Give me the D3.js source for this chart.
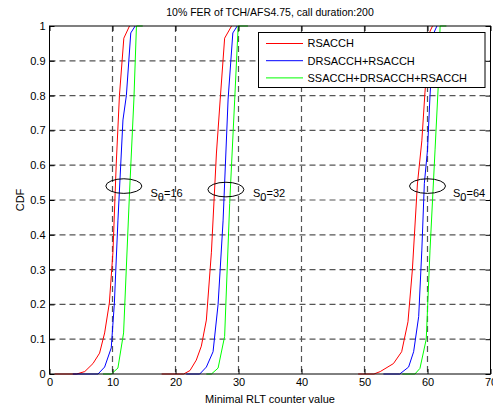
<!DOCTYPE html>
<html><head><meta charset="utf-8">
<script src="https://cdn.jsdelivr.net/npm/d3@7"></script>
<style>body{margin:0;background:#fff}text{font-family:"Liberation Sans",Arial,sans-serif}</style>
</head><body><svg id="c" width="493" height="405"></svg>
<script>
const title = "10% FER of TCH/AFS4.75, call duration:200";
const xLabel = "Minimal RLT counter value";
const yLabel = "CDF";
const xTicks = [0,10,20,30,40,50,60,70];
const yTicks = [0,0.1,0.2,0.3,0.4,0.5,0.6,0.7,0.8,0.9,1];
const seriesNames = ["RSACCH","DRSACCH+RSACCH","SSACCH+DRSACCH+RSACCH"];
const seriesColors = ["#ff0000","#0000ff","#00ff00"];

// group S=16
const red1 = [[0.8,0],[4.3,0],[5.6,0.007],[6.9,0.03],[7.95,0.06],[8.75,0.118],[9.5,0.204],[10.07,0.35],[10.6,0.606],[11.1,0.8],[11.8,0.965],[12.7,1]];
const blue1 = [[3.7,0],[7.7,0],[8.75,0.02],[9.8,0.075],[10.3,0.204],[10.86,0.44],[11.66,0.73],[12.2,0.8],[12.9,0.98],[13.6,1]];
const green1 = [[8.5,0],[9.8,0],[10.86,0.017],[11.76,0.118],[12.7,0.52],[13.4,0.79],[13.8,1],[14.8,1]];
// group S=32
const red2 = [[17.8,0],[21.3,0],[22.3,0.01],[23.3,0.04],[24.1,0.08],[24.9,0.155],[25.7,0.35],[26.5,0.635],[27.1,0.79],[27.8,0.965],[28.9,1]];
const blue2 = [[21.7,0],[23.85,0],[24.9,0.02],[25.96,0.064],[26.76,0.2],[27.55,0.44],[28.35,0.79],[29.1,0.98],[29.8,1]];
const green2 = [[24.9,0],[25.7,0],[26.76,0.017],[27.8,0.108],[28.6,0.49],[29.4,0.79],[29.95,1],[31.5,1]];
// group S=64
const red3 = [[49,0],[51.5,0],[52.5,0.007],[54.6,0.03],[55.9,0.064],[56.9,0.15],[57.6,0.3],[58.4,0.546],[59.1,0.67],[59.6,0.81],[60.4,0.985],[60.8,1]];
const blue3 = [[53,0],[55.6,0],[57,0.02],[57.8,0.064],[58.6,0.165],[59.1,0.356],[59.5,0.548],[60.0,0.644],[60.4,0.8],[61.0,0.98],[61.5,1]];
const green3 = [[56,0],[58,0],[58.8,0.016],[59.8,0.1],[60.4,0.356],[61.2,0.644],[61.7,0.826],[62,1],[63,1]];

const annCenters = [[11.8,0.54],[28,0.53],[60,0.54]];
const annLabels = [["S","θ","=16"],["S","0","=32"],["S","0","=64"]];
const annTextX = [16, 32.1, 64.1];

const svg = d3.select("#c");
const L=49.5,R=490.5,T=26,B=374;
const x = d3.scaleLinear().domain([0,70]).range([L,R]);
const y = d3.scaleLinear().domain([0,1]).range([B,T]);

// grid
const g = svg.append("g");
xTicks.filter(v=>v>0&&v<70).forEach(v=>{
  g.append("line").attr("x1",x(v)).attr("x2",x(v)).attr("y1",T).attr("y2",B)
   .attr("stroke","#555").attr("stroke-width",1.2).attr("stroke-dasharray","6,4");
});
yTicks.filter(v=>v>0&&v<1).forEach(v=>{
  g.append("line").attr("x1",L).attr("x2",R).attr("y1",y(v)).attr("y2",y(v))
   .attr("stroke","#555").attr("stroke-width",1.2).attr("stroke-dasharray","6,4");
});

// curves
const line = d3.line().x(d=>x(d[0])).y(d=>y(d[1]));
const groups=[[red1,blue1,green1],[red2,blue2,green2],[red3,blue3,green3]];
groups.forEach(gr=>gr.forEach((s,i)=>{
  svg.append("path").datum(s).attr("d",line).attr("fill","none").attr("stroke",seriesColors[i]).attr("stroke-width",1);
}));

// axes
const xa = svg.append("g").attr("transform",`translate(0,${B})`).call(d3.axisBottom(x).tickValues(xTicks).tickSize(-5).tickPadding(4).tickFormat(d3.format("d")));
const xt = svg.append("g").attr("transform",`translate(0,${T})`).call(d3.axisTop(x).tickValues(xTicks).tickSize(-5).tickFormat(""));
const ya = svg.append("g").attr("transform",`translate(${L},0)`).call(d3.axisLeft(y).tickValues(yTicks).tickSize(-5).tickPadding(4).tickFormat(d=>d===0?"0":d===1?"1":d3.format(".1f")(d)));
const yr = svg.append("g").attr("transform",`translate(${R},0)`).call(d3.axisRight(y).tickValues(yTicks).tickSize(-5).tickFormat(""));
[xa,xt,ya,yr].forEach(a=>{a.select(".domain").remove();a.selectAll("line").attr("stroke","#000");
  a.selectAll("text").attr("font-size",11).attr("fill","#000").attr("font-family","Liberation Sans, Arial, sans-serif");});
xa.selectAll("text").attr("dy","0.71em");
svg.append("rect").attr("x",L).attr("y",T).attr("width",R-L).attr("height",B-T).attr("fill","none").attr("stroke","#000").attr("stroke-width",1);

// annotations
annCenters.forEach((c,i)=>{
  svg.append("ellipse").attr("cx",x(c[0])).attr("cy",y(c[1])).attr("rx",18).attr("ry",7.3)
   .attr("fill","none").attr("stroke","#000").attr("stroke-width",1);
  const t=svg.append("text").attr("x",x(annTextX[i])-x(0)+L+0).attr("y",y(0.515)).attr("font-size",11);
});
svg.selectAll("text.ann").remove();
svg.selectAll("text").filter(function(){return this.textContent===""&&!this.parentNode.classList.contains("tick");}).remove();
const annX=[150.5,253,453];
annLabels.forEach((lab,i)=>{
  const t=svg.append("text").attr("x",annX[i]).attr("y",y(0.51)).attr("font-size",11).attr("fill","#000");
  t.append("tspan").text(lab[0]);
  t.append("tspan").attr("dy",4).attr("font-size",11).text(lab[1]);
  t.append("tspan").attr("dy",-4).text(lab[2]);
});

// legend
const lg=svg.append("g");
lg.append("rect").attr("x",258.5).attr("y",32.5).attr("width",226.5).attr("height",55).attr("fill","#fff").attr("stroke","#000").attr("stroke-width",1);
seriesNames.forEach((n,i)=>{
  const yy=43.5+i*17.2;
  lg.append("line").attr("x1",266).attr("x2",303).attr("y1",yy).attr("y2",yy).attr("stroke",seriesColors[i]).attr("stroke-width",1);
  lg.append("text").attr("x",307.5).attr("y",yy).attr("dy","0.36em").attr("font-size",11).attr("fill","#000").text(n);
});

// labels
svg.append("text").attr("x",270).attr("y",12).attr("dy","0.36em").attr("text-anchor","middle").attr("font-size",10.5).text(title);
svg.append("text").attr("x",(L+R)/2).attr("y",399).attr("dy","0.36em").attr("text-anchor","middle").attr("font-size",11).text(xLabel);
svg.append("text").attr("transform",`translate(20,${(T+B)/2}) rotate(-90)`).attr("dy","0.36em").attr("text-anchor","middle").attr("font-size",11).text(yLabel);
</script></body></html>
